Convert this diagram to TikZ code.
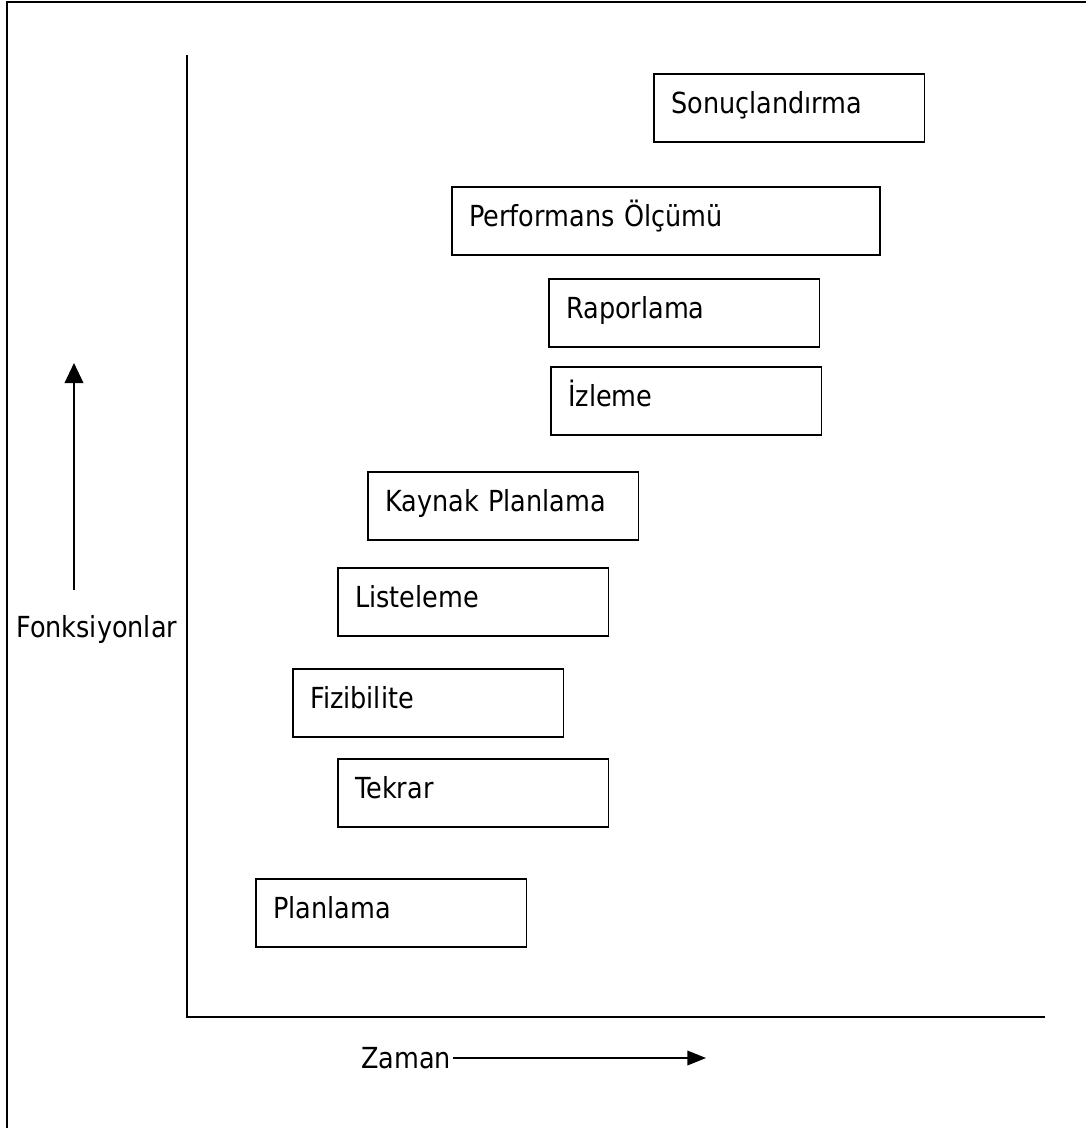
\documentclass[tikz,border=0pt]{standalone}
\usepackage{fontspec}
\setmainfont{DejaVu Sans}[FakeStretch=0.88]
\usetikzlibrary{arrows.meta}
\begin{document}
\begin{tikzpicture}[x=0.75pt,y=-0.75pt,
  every node/.style={font=\fontsize{21.75}{26}\selectfont},
  stagebox/.style={draw, line width=1.3pt, rectangle, anchor=north west,
    inner xsep=13pt, inner ysep=0pt, align=left,
    text width=177pt, minimum width=203pt, minimum height=51pt,
    text height=15pt, text depth=6pt},
  widebox/.style={stagebox, text width=295pt, minimum width=321pt},
  axis/.style={line width=1.5pt},
  frameline/.style={line width=1.5pt},
  tiparrow/.style={line width=1.1pt, -{Triangle[length=15pt,width=14pt]}},
  tiparrowh/.style={line width=1.1pt, -{Triangle[length=14pt,width=11pt]}}]
\useasboundingbox (0,0) rectangle (1086,1128);
% frame (only top and left edges are visible)
\draw[frameline] (6.5,1128) -- (6.5,2) -- (1086,2);
% axes
\coordinate (o) at (187,1017);
\coordinate (ytop) at (187,55);
\coordinate (xend) at (1045,1017);
\draw[axis] (ytop) -- (o) -- (xend);
% boxes
\node[stagebox] (sonuc) at (653,73) {Sonuçlandırma};
\node[widebox] (perf) at (451,186) {Performans Ölçümü};
\node[stagebox] (rapor) at (548,278) {Raporlama};
\node[stagebox] (izle) at (550,366) {İzleme};
\node[stagebox] (kaynak) at (367,471) {Kaynak Planlama};
\node[stagebox] (liste) at (337,567) {Listeleme};
\node[stagebox] (fizi) at (292,668) {Fizibilite};
\node[stagebox] (tekrar) at (337,758) {Tekrar};
\node[stagebox] (plan) at (255,878) {Planlama};
% axis labels
\node[anchor=base west, inner sep=0pt] (fonk) at (16,637) {Fonksiyonlar};
\coordinate (ua) at (74,590);
\coordinate (ub) at (74,363);
\draw[tiparrow] (ua) -- (ub);
\node[anchor=base west, inner sep=0pt] (zaman) at (361,1068) {Zaman};
\coordinate (za) at (706,1058);
\draw[tiparrowh] (zaman.east |- za) ++(2,0) -- (za);
\end{tikzpicture}
\end{document}
